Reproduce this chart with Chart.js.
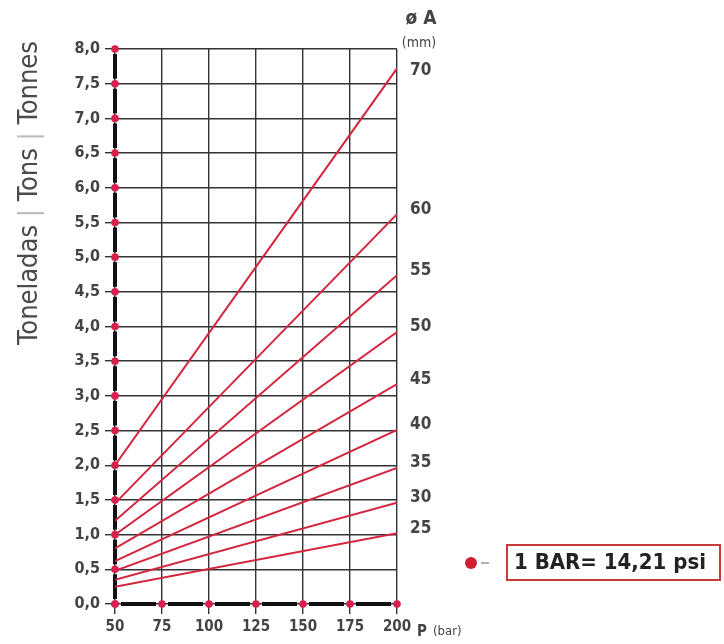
<!DOCTYPE html>
<html>
<head>
<meta charset="utf-8">
<script src="https://cdn.jsdelivr.net/npm/chart.js@4/dist/chart.umd.min.js"></script>
<style>
  html, body { margin: 0; padding: 0; background: #fff; }
  #wrap { width: 724px; height: 644px; position: relative; }
</style>
</head>
<body>
<div id="wrap"><canvas id="chart" width="724" height="644"></canvas></div>
<script>
// data
const diameters = ["25", "30", "35", "40", "45", "50", "55", "60", "70"];
const pressures = [50, 200];
const tonsAt50 = [0.25, 0.35, 0.48, 0.62, 0.80, 1.00, 1.20, 1.45, 2.00];
const tonsAt200 = [1.02, 1.46, 1.96, 2.51, 3.17, 3.92, 4.74, 5.62, 7.72];
const xTicks = [50, 75, 100, 125, 150, 175, 200];
const yTicks = [0, 0.5, 1, 1.5, 2, 2.5, 3, 3.5, 4, 4.5, 5, 5.5, 6, 6.5, 7, 7.5, 8];

const FONT = "'Liberation Sans Narrow', 'DejaVu Sans Condensed', 'Liberation Sans', sans-serif";
const RED = "#d3263f";
const DOT = "#d81f4e";
const TXT = "#444";

const datasets = diameters.map((d, i) => ({
  label: d,
  data: [
    { x: pressures[0], y: tonsAt50[i] },
    { x: pressures[1], y: tonsAt200[i] }
  ],
  borderColor: RED,
  borderWidth: 2,
  pointRadius: 0,
  tension: 0
}));

// 🔹 axis lines with red dots, right-hand labels, extra texts
const decor = {
  id: "decor",
  beforeDatasetsDraw(chart) {
    const { ctx, chartArea: a, scales: { x, y } } = chart;
    ctx.save();
    ctx.strokeStyle = "#111";
    ctx.lineWidth = 4;
    // left axis: black segments between ticks
    for (let i = 0; i < yTicks.length - 1; i++) {
      const y1 = y.getPixelForValue(yTicks[i]) - 5;
      const y2 = y.getPixelForValue(yTicks[i + 1]) + 5;
      ctx.beginPath(); ctx.moveTo(a.left, y1); ctx.lineTo(a.left, y2); ctx.stroke();
    }
    // bottom axis
    for (let i = 0; i < xTicks.length - 1; i++) {
      const x1 = x.getPixelForValue(xTicks[i]) + 6;
      const x2 = x.getPixelForValue(xTicks[i + 1]) - 6;
      ctx.beginPath(); ctx.moveTo(x1, a.bottom); ctx.lineTo(x2, a.bottom); ctx.stroke();
    }
    ctx.restore();
  },
  afterDatasetsDraw(chart) {
    const { ctx, chartArea: a, scales: { x, y } } = chart;
    ctx.save();
    ctx.fillStyle = DOT;
    yTicks.forEach(v => {
      ctx.beginPath(); ctx.arc(a.left, y.getPixelForValue(v), 3.8, 0, Math.PI * 2); ctx.fill();
    });
    xTicks.forEach(v => {
      ctx.beginPath(); ctx.arc(x.getPixelForValue(v), a.bottom, 3.8, 0, Math.PI * 2); ctx.fill();
    });

    // diameter labels at line ends
    ctx.fillStyle = TXT;
    ctx.font = "bold 17px " + FONT;
    ctx.textBaseline = "middle";
    ctx.textAlign = "left";
    chart.data.datasets.forEach((ds, i) => {
      const py = y.getPixelForValue(ds.data[1].y);
      const off = i === 8 ? 2 : -5;
      ctx.fillText(ds.label, a.right + 13, py + off);
    });

    // ø A (mm)
    ctx.textAlign = "center";
    ctx.font = "bold 19px " + FONT;
    ctx.fillText("ø A", a.right + 24, 19);
    ctx.font = "14px " + FONT;
    ctx.fillText("(mm)", a.right + 22, 43);

    // P (bar)
    ctx.textAlign = "left";
    ctx.font = "bold 15px " + FONT;
    ctx.fillText("P", a.right + 20, 632);
    ctx.font = "13px " + FONT;
    ctx.fillText("(bar)", a.right + 36, 632);

    // y title
    ctx.save();
    ctx.translate(30, 193);
    ctx.rotate(-Math.PI / 2);
    ctx.font = "27px " + FONT;
    const parts = [["Toneladas", "#4a4a4a"], [" | ", "#bbb"], ["Tons", "#4a4a4a"], [" | ", "#bbb"], ["Tonnes", "#4a4a4a"]];
    const total = parts.reduce((s, p) => s + ctx.measureText(p[0]).width, 0);
    let cx = -total / 2;
    parts.forEach(p => {
      ctx.fillStyle = p[1];
      ctx.fillText(p[0], cx, 0);
      cx += ctx.measureText(p[0]).width;
    });
    ctx.restore();

    // 1 BAR note
    ctx.fillStyle = "#cc2030";
    ctx.beginPath(); ctx.arc(471, 563, 6, 0, Math.PI * 2); ctx.fill();
    ctx.strokeStyle = "#999"; ctx.lineWidth = 1.5;
    ctx.beginPath(); ctx.moveTo(481, 563); ctx.lineTo(489, 563); ctx.stroke();
    ctx.fillStyle = "#fff";
    ctx.fillRect(507, 545, 213, 35);
    ctx.strokeStyle = "#c83a3a"; ctx.lineWidth = 2;
    ctx.strokeRect(507, 545, 213, 35);
    ctx.fillStyle = "#222";
    ctx.font = "bold 22px " + FONT;
    ctx.textAlign = "left";
    ctx.fillText("1 BAR= 14,21 psi", 514, 563);
    ctx.restore();
  }
};

new Chart(document.getElementById("chart"), {
  type: "line",
  data: { datasets },
  options: {
    responsive: false,
    animation: false,
    layout: { padding: { left: 0, top: 49, right: 327, bottom: 0 } },
    plugins: { legend: { display: false }, tooltip: { enabled: false } },
    scales: {
      x: {
        type: "linear",
        min: 50, max: 200,
        afterFit: s => { s.height = 40; },
        afterBuildTicks: s => { s.ticks = xTicks.map(v => ({ value: v })); },
        grid: { color: "#333", lineWidth: 1.4, tickLength: 10, drawOnChartArea: true },
        border: { display: false },
        ticks: { color: TXT, font: { family: FONT, size: 15, weight: "bold" }, padding: 4, maxRotation: 0 }
      },
      y: {
        min: 0, max: 8,
        afterFit: s => { s.width = 115; },
        afterBuildTicks: s => { s.ticks = yTicks.map(v => ({ value: v })); },
        grid: { color: "#333", lineWidth: 1.4, tickLength: 10 },
        border: { display: false },
        ticks: {
          color: TXT,
          font: { family: FONT, size: 16, weight: "bold" },
          padding: 5,
          callback: v => v.toFixed(1).replace(".", ",")
        }
      }
    }
  },
  plugins: [decor]
});
</script>
</body>
</html>
